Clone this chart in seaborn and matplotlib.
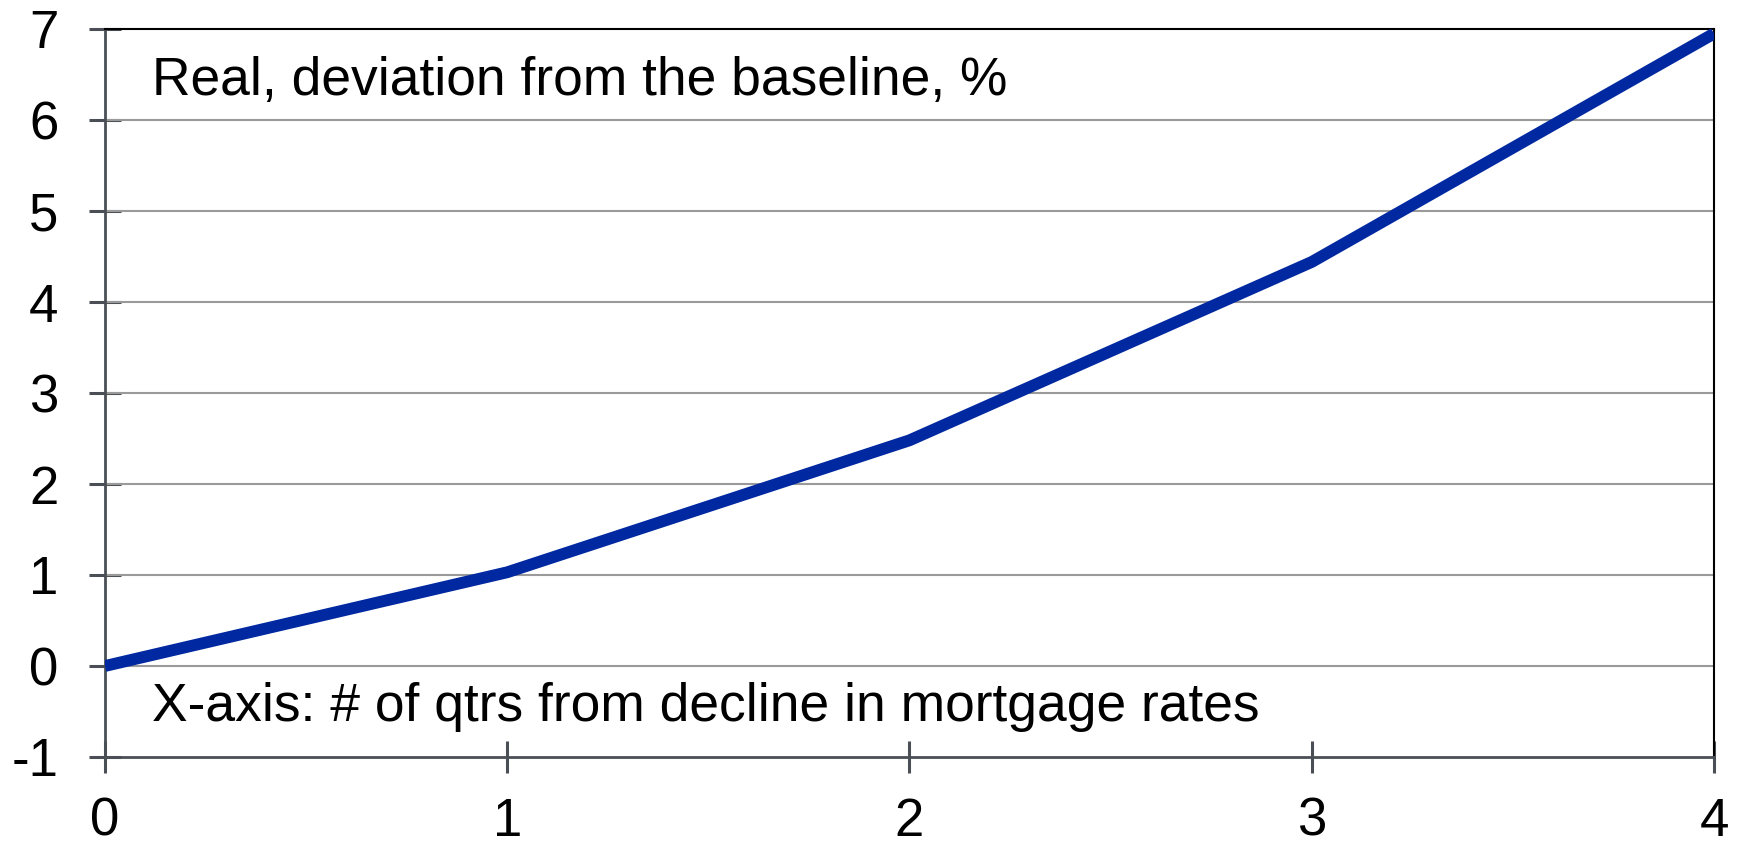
import matplotlib
matplotlib.use("Agg")
import matplotlib.pyplot as plt
import seaborn as sns
import pandas as pd

quarters = [0, 1, 2, 3, 4]
deviation = [0.0, 1.03, 2.48, 4.44, 6.95]
y_ticks = [-1, 0, 1, 2, 3, 4, 5, 6, 7]
x_ticks = [0, 1, 2, 3, 4]

sns.set_theme(style="white")
plt.rcParams['font.family'] = ['Liberation Sans', 'DejaVu Sans']
plt.rcParams['axes.unicode_minus'] = False
plt.rcParams['text.color'] = 'black'

df = pd.DataFrame({"q": quarters, "v": deviation})

fig = plt.figure(figsize=(17.39, 8.43), dpi=100)
ax = fig.add_axes([105/1739, 1-757/843, (1714-105)/1739, (757-29)/843])

for yv in y_ticks[1:-1]:
    ax.axhline(yv, color="#9a9a9a", lw=1.5, zorder=1)

sns.lineplot(data=df, x="q", y="v", ax=ax, color="#0028a0", lw=8.5, zorder=3)
for ln in ax.get_lines()[-1:]:
    ln.set_solid_capstyle("butt")

ax.set_xlim(0, 4)
ax.set_ylim(-1, 7)
ax.set_xticks(x_ticks)
ax.set_yticks(y_ticks)
ax.set_xticklabels([str(v) for v in x_ticks])
ax.set_yticklabels([str(v) for v in y_ticks])
ax.set_xlabel("")
ax.set_ylabel("")
ax.tick_params(axis="both", left=True, bottom=True, direction="inout", length=23, width=2.2,
               color="#4a4f55", labelsize=38, labelcolor="black")
ax.tick_params(axis="y", pad=22)
ax.tick_params(axis="x", pad=17)
for s in ["left", "bottom"]:
    ax.spines[s].set_color("#4a4f55")
    ax.spines[s].set_linewidth(2)
for s in ["top", "right"]:
    ax.spines[s].set_color("black")
    ax.spines[s].set_linewidth(1.5)

ax.text((152-105)/(1714-105), (757-95)/(757-29), "Real, deviation from the baseline, %",
        transform=ax.transAxes, fontsize=38.4, ha="left", va="baseline", color="black")
ax.text((152-105)/(1714-105), (757-721)/(757-29), "X-axis: # of qtrs from decline in mortgage rates",
        transform=ax.transAxes, fontsize=38.4, ha="left", va="baseline", color="black")

fig.savefig("out.png", dpi=100)
